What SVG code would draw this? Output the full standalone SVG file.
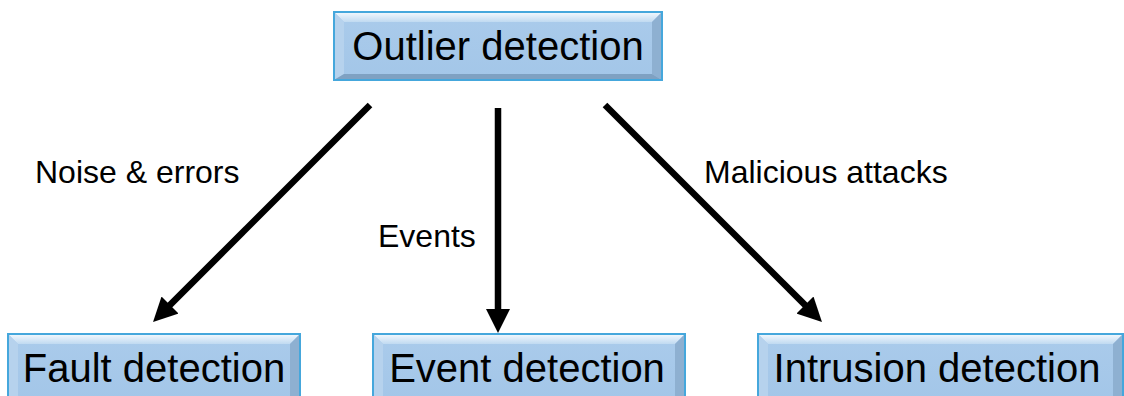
<svg xmlns="http://www.w3.org/2000/svg" width="1124" height="396" viewBox="0 0 1124 396">
  <defs>
    <linearGradient id="bevelTop" x1="0" y1="0" x2="0" y2="1">
      <stop offset="0" stop-color="#f4f9fe"/>
      <stop offset="1" stop-color="#c0daf1"/>
    </linearGradient>
    <linearGradient id="faceFill" x1="0" y1="0" x2="0" y2="1">
      <stop offset="0" stop-color="#aacbeb"/>
      <stop offset="1" stop-color="#a3c6e8"/>
    </linearGradient>
    <marker id="head" viewBox="0 0 24 24" markerUnits="userSpaceOnUse" markerWidth="24" markerHeight="24" refX="2" refY="12" orient="auto">
      <path d="M0,0 L24,12 L0,24 z" fill="#000"/>
    </marker>
  </defs>
  <style>
    .face { fill: url(#faceFill); }
    .bt { fill: url(#bevelTop); }
    .bl { fill: #b6d2ed; }
    .br { fill: #8eb0d1; }
    .bb { fill: #7fa1c2; }
    .edge { fill: none; stroke: #45a7dc; stroke-width: 2; }
    .title { font-family: "Liberation Sans", Arial, sans-serif; font-size: 40px; fill: #000; text-anchor: middle; }
    .label { font-family: "Liberation Sans", Arial, sans-serif; font-size: 32px; fill: #000; }
    .conn { stroke: #000; stroke-width: 6.5; fill: none; marker-end: url(#head); }
  </style>

  <rect width="1124" height="396" fill="#fff"/>

  <!-- connectors -->
  <g id="connectors">
    <line class="conn" x1="370" y1="105" x2="168.6" y2="306.4"/>
    <line class="conn" x1="498" y1="108" x2="498" y2="311"/>
    <line class="conn" x1="605" y1="105" x2="806.4" y2="306.4"/>
    <text class="label" x="35" y="183">Noise &amp; errors</text>
    <text class="label" x="378" y="247">Events</text>
    <text class="label" x="704" y="183">Malicious attacks</text>
  </g>

  <!-- root node: x 334..662, y 12..80 -->
  <g id="outlier">
    <rect class="face" x="334" y="12" width="328" height="68"/>
    <polygon class="bt" points="334,12 662,12 652,22 344,22"/>
    <polygon class="bl" points="334,12 344,22 344,74 334,80"/>
    <polygon class="br" points="662,12 662,80 652,74 652,22"/>
    <polygon class="bb" points="334,80 344,74 652,74 662,80"/>
    <rect class="edge" x="334" y="12" width="328" height="68"/>
    <text class="title" x="498" y="60">Outlier detection</text>
  </g>

  <!-- leaf nodes, cut by the bottom edge -->
  <g id="fault">
    <rect class="face" x="8" y="334" width="292" height="68"/>
    <polygon class="bt" points="8,334 300,334 290,344 18,344"/>
    <polygon class="bl" points="8,334 18,344 18,396 8,402"/>
    <polygon class="br" points="300,334 300,402 290,396 290,344"/>
    <rect class="edge" x="8" y="334" width="292" height="68"/>
    <text class="title" x="154" y="382">Fault detection</text>
  </g>

  <g id="event">
    <rect class="face" x="373" y="334" width="312" height="68"/>
    <polygon class="bt" points="373,334 685,334 675,344 383,344"/>
    <polygon class="bl" points="373,334 383,344 383,396 373,402"/>
    <polygon class="br" points="685,334 685,402 675,396 675,344"/>
    <rect class="edge" x="373" y="334" width="312" height="68"/>
    <text class="title" x="527" y="382">Event detection</text>
  </g>

  <g id="intrusion">
    <rect class="face" x="758" y="334" width="365" height="68"/>
    <polygon class="bt" points="758,334 1123,334 1113,344 768,344"/>
    <polygon class="bl" points="758,334 768,344 768,396 758,402"/>
    <polygon class="br" points="1123,334 1123,402 1113,396 1113,344"/>
    <rect class="edge" x="758" y="334" width="365" height="68"/>
    <text class="title" x="937" y="382">Intrusion detection</text>
  </g>
</svg>
